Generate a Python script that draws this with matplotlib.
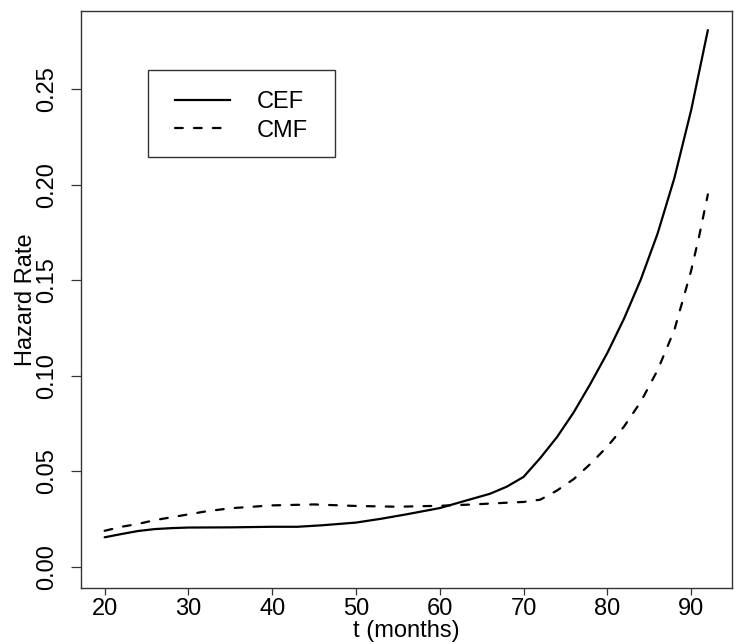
import matplotlib
matplotlib.use("Agg")
import matplotlib.pyplot as plt
from matplotlib.lines import Line2D
from matplotlib.patches import Rectangle

plt.rcParams['font.family'] = ['Liberation Sans', 'DejaVu Sans']

t_cef = [20, 22, 24, 26, 28, 30, 35, 40, 43, 46, 50, 53, 56, 60, 62, 64, 66, 68, 70,
         72, 74, 76, 78, 80, 82, 84, 86, 88, 90, 92]
cef = [0.0155, 0.0172, 0.0188, 0.0198, 0.0203, 0.0206, 0.0207, 0.0210, 0.0210, 0.0218,
       0.0232, 0.0252, 0.0275, 0.0308, 0.0333, 0.0358, 0.0383, 0.0420, 0.0471,
       0.0570, 0.0680, 0.0810, 0.0960, 0.1120, 0.1300, 0.1505, 0.1745, 0.2035, 0.2390, 0.2810]

t_cmf = [20, 22, 24, 26, 28, 30, 32, 35, 40, 45, 50, 55, 60, 64, 68, 70, 72, 74, 76,
         78, 80, 82, 84, 86, 88, 90, 91, 92]
cmf = [0.0189, 0.0210, 0.0225, 0.0245, 0.0260, 0.0275, 0.0290, 0.0307, 0.0322, 0.0327,
       0.0319, 0.0315, 0.0320, 0.0327, 0.0336, 0.0340, 0.0352, 0.0400, 0.0460,
       0.0540, 0.0630, 0.0735, 0.0865, 0.1030, 0.1240, 0.1550, 0.1740, 0.1950]

xticks = [20, 30, 40, 50, 60, 70, 80, 90]
yticks = [0.00, 0.05, 0.10, 0.15, 0.20, 0.25]
ytick_labels = ["0.00", "0.05", "0.10", "0.15", "0.20", "0.25"]
series_names = ["CEF", "CMF"]

W, H = 746, 644
fig = plt.figure(figsize=(W / 100, H / 100), dpi=100)
left, right, top, bottom = 80.5, 732, 10.6, 588.3
aw, ah = right - left, bottom - top
ax = fig.add_axes([left / W, 1 - bottom / H, aw / W, ah / H])

dash = (0, (3.5, 5.0))
ax.plot(t_cef, cef, color='black', lw=1.6, solid_joinstyle='round', solid_capstyle='round')
ax.plot(t_cmf, cmf, color='black', lw=1.6, linestyle=dash, dash_capstyle='round')

ax.set_xlim(17.12, 94.88)
ax.set_ylim(-0.0112, 0.2912)

ax.set_xticks(xticks)
ax.set_xticklabels([str(x) for x in xticks], fontsize=17)
ax.set_yticks(yticks)
ax.set_yticklabels(ytick_labels, fontsize=17, rotation=90, va='center')
ax.tick_params(axis='x', direction='out', length=4.8, width=0.9, color='#333333', pad=2.5)
ax.tick_params(axis='y', direction='out', length=7.0, width=0.9, color='#333333', pad=9.0)

for s in ax.spines.values():
    s.set_linewidth(1.0)
    s.set_color('#333333')

ax.set_xlabel("t (months)", fontsize=17)
ax.xaxis.set_label_coords(0.5, (bottom - 620.5) / ah)
ax.set_ylabel("Hazard Rate", fontsize=17)
ax.yaxis.set_label_coords((37 - left) / aw, 0.5)

# legend frame (pixel box 148..335 x 70..157)
fig.add_artist(Rectangle((148.3 / W, 1 - 156.7 / H), (335 - 148.3) / W, (156.7 - 70) / H,
                         transform=fig.transFigure, fill=False, edgecolor='#333333', lw=1.0))

handles = [Line2D([], [], color='black', lw=1.6),
           Line2D([], [], color='black', lw=1.6, linestyle=dash, dash_capstyle='round')]
leg = ax.legend(handles, series_names, loc='upper left',
                bbox_to_anchor=((175 - left) / aw, 1 - (91 - top) / ah),
                fontsize=17, frameon=False, borderpad=0,
                handlelength=2.33, handletextpad=1.13, labelspacing=0.28,
                borderaxespad=0)

fig.savefig("out.png", dpi=100)
